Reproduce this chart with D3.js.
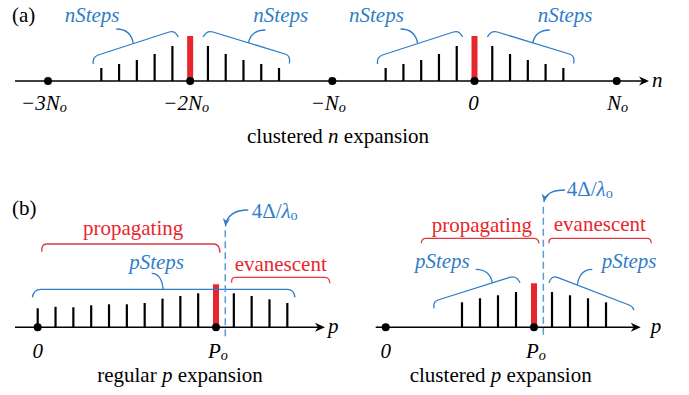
<!DOCTYPE html>
<html>
<head>
<meta charset="utf-8">
<script src="https://cdn.jsdelivr.net/npm/d3@7"></script>
<style>
  body { margin: 0; background: #fff; }
  svg { display: block; }
</style>
</head>
<body>
<svg id="chart" width="689" height="395"></svg>
<script>
// ---------------- data ----------------
// (a) clustered n expansion — positions in units of N0
const nTickValues = [-3, -2, -1, 0, 1];
const nTickLabels = ["−3N", "−2N", "−N", "0", "N"];
const nTickSubs   = ["o", "o", "o", "", "o"];
const nClusterCenters = [-2, 0];
const nStepOffsets = [0.125, 0.25, 0.375, 0.5, 0.625];   // distance from centre, inner → outer
const nStepAmps    = [35, 27, 21, 17, 13];                // stick heights, inner → outer
const nCenterAmp   = 45;

// (b) regular p expansion — integer p index, P0 at index 10
const pRegularIndex  = [0, 1, 2, 3, 4, 5, 6, 7, 8, 9, 10, 11, 12, 13, 14];
const pRegularAmps   = [19, 20.5, 20, 22, 23, 23, 24.3, 28.7, 31.3, 34, 43, 34, 31.3, 28, 24.3];
const pRegularCenter = 10;

// (b) clustered p expansion — positions as fraction of P0
const pClusterOffsets   = [0.1214, 0.2428, 0.3642, 0.4856]; // inner → outer
const pClusterAmps      = [35.3, 32, 29, 25];               // inner → outer
const pClusterCenterAmp = 44;

// ---------------- setup ----------------
const FONT = "'Liberation Serif','Times New Roman',Times,serif";
const BLUE = "#2f7cc7";
const RED = "#e8262d";
const BRACE_RED = "#dc3a40";
const DASH_BLUE = "#5b9bd5";
const FS = 21;

const svg = d3.select("#chart");

const xA = d3.scaleLinear().domain([-3, 0]).range([48, 474.5]);
const yA = d3.scaleLinear().domain([0, 100]).range([81, -19]);
const xB = d3.scaleLinear().domain([0, 10]).range([37.7, 216]);
const xC = d3.scaleLinear().domain([0, 1]).range([385.7, 534]);
const yB = d3.scaleLinear().domain([0, 100]).range([327.3, 227.3]);

// ---------------- helpers ----------------
function text(g, x, y, parts, opts = {}) {
  const t = g.append("text")
    .attr("x", x).attr("y", y)
    .attr("font-family", FONT)
    .attr("font-size", opts.size || FS)
    .attr("fill", opts.color || "#000")
    .attr("text-anchor", opts.anchor || "start");
  parts.forEach(p => {
    const [str, style] = Array.isArray(p) ? p : [p, ""];
    const ts = t.append("tspan").text(str);
    if (style.includes("i")) ts.attr("font-style", "italic");
    if (style.includes("s")) ts.attr("font-size", (opts.size || FS) * 0.68).attr("dy", 1.5);
  });
  return t;
}

function arrowHead(g, x, y, angDeg, size, color) {
  g.append("path")
    .attr("d", `M0,0 L${-size},${-size * 0.45} L${-size * 0.7},0 L${-size},${size * 0.45} Z`)
    .attr("transform", `translate(${x},${y}) rotate(${angDeg})`)
    .attr("fill", color);
}

// slanted/flat bracket: hook end h1 → p1, straight p1 → p2, hook p2 → h2
function bracket(g, pts, color) {
  const [h1, p1, p2, h2] = pts;
  const dx = p2[0] - p1[0], dy = p2[1] - p1[1];
  const L = Math.hypot(dx, dy), ux = dx / L, uy = dy / L;
  const k1 = Math.hypot(h1[0] - p1[0], h1[1] - p1[1]) * 0.6;
  const k2 = Math.hypot(h2[0] - p2[0], h2[1] - p2[1]) * 0.6;
  const p = d3.path();
  p.moveTo(h1[0], h1[1]);
  p.quadraticCurveTo(p1[0] - ux * k1, p1[1] - uy * k1, p1[0], p1[1]);
  p.lineTo(p2[0], p2[1]);
  p.quadraticCurveTo(p2[0] + ux * k2, p2[1] + uy * k2, h2[0], h2[1]);
  g.append("path").attr("d", p.toString())
    .attr("fill", "none").attr("stroke", color).attr("stroke-width", 1.3);
}

function callout(g, from, to, color) {
  const p = d3.path();
  p.moveTo(from[0], from[1]);
  p.quadraticCurveTo(from[0] + (to[0] - from[0]) * 0.15, to[1], to[0], to[1]);
  g.append("path").attr("d", p.toString())
    .attr("fill", "none").attr("stroke", color).attr("stroke-width", 1.3);
}

function pt(xs, ys, v, a) { return [xs(v), ys(a)]; }

function sticks(g, xs, ys, pos, amps) {
  g.selectAll(null).data(d3.zip(pos, amps)).join("line")
    .attr("x1", d => xs(d[0])).attr("x2", d => xs(d[0]))
    .attr("y1", ys(0)).attr("y2", d => ys(d[1]))
    .attr("stroke", "#000").attr("stroke-width", 2.2);
}

function redBar(g, xs, ys, v, a) {
  g.append("rect")
    .attr("x", xs(v) - 3).attr("width", 6)
    .attr("y", ys(a)).attr("height", ys(0) - ys(a))
    .attr("fill", RED);
}

function axisLine(g, x0, x1, y) {
  g.append("line").attr("x1", x0).attr("x2", x1 - 5).attr("y1", y).attr("y2", y)
    .attr("stroke", "#000").attr("stroke-width", 1.4);
  arrowHead(g, x1, y, 0, 10, "#000");
}

function dots(g, xs, ys, vals) {
  g.selectAll(null).data(vals).join("circle")
    .attr("cx", d => xs(d)).attr("cy", ys(0)).attr("r", 4).attr("fill", "#000");
}

function deltaArrow(g, from, to) {
  const cx = to[0] + 2, cy = from[1];
  const p = d3.path();
  p.moveTo(from[0], from[1]);
  p.quadraticCurveTo(cx, cy, to[0], to[1]);
  g.append("path").attr("d", p.toString())
    .attr("fill", "none").attr("stroke", BLUE).attr("stroke-width", 1.3);
  const ang = Math.atan2(to[1] - cy, to[0] - cx) * 180 / Math.PI;
  arrowHead(g, to[0], to[1], ang, 8, BLUE);
}

function dashed(g, x, yTop, yBot) {
  g.append("line").attr("x1", x).attr("x2", x).attr("y1", yTop).attr("y2", yBot)
    .attr("stroke", DASH_BLUE).attr("stroke-width", 1.5).attr("stroke-dasharray", "7,4");
}

// ---------------- panel (a) ----------------
const ga = svg.append("g");
text(ga, 12, 22, ["(a)"]);

nClusterCenters.forEach(c => {
  const pos = [...nStepOffsets.map(o => c - o), ...nStepOffsets.map(o => c + o)];
  const amps = [...nStepAmps, ...nStepAmps];
  sticks(ga, xA, yA, pos, amps);
  redBar(ga, xA, yA, c, nCenterAmp);

  // left bracket + label
  bracket(ga, [pt(xA, yA, c - 0.682, 17), pt(xA, yA, c - 0.647, 26),
               pt(xA, yA, c - 0.148, 49), pt(xA, yA, c - 0.084, 44)], BLUE);
  callout(ga, pt(xA, yA, c - 0.40, 37.5), pt(xA, yA, c - 0.52, 52), BLUE);
  text(ga, xA(c - 0.69), yA(59), [["nSteps", "i"]], { color: BLUE, anchor: "middle" });

  // right bracket + label
  bracket(ga, [pt(xA, yA, c + 0.697, 17.5), pt(xA, yA, c + 0.667, 27),
               pt(xA, yA, c + 0.16, 49), pt(xA, yA, c + 0.091, 44)], BLUE);
  callout(ga, pt(xA, yA, c + 0.41, 38), pt(xA, yA, c + 0.53, 51), BLUE);
  text(ga, xA(c + 0.637), yA(59), [["nSteps", "i"]], { color: BLUE, anchor: "middle" });
});

axisLine(ga, 15, 649, yA(0));
dots(ga, xA, yA, nTickValues);
text(ga, 652, 87, [["n", "i"]]);

nTickValues.forEach((v, i) => {
  const parts = [[nTickLabels[i], "i"]];
  if (nTickSubs[i]) parts.push([nTickSubs[i], "is"]);
  const shift = nTickLabels[i].startsWith("−") ? -4 : (v === 0 ? -1 : 1);
  text(ga, xA(v) + shift, 110, parts, { anchor: "middle" });
});
text(ga, 338, 143, ["clustered ", ["n", "i"], " expansion"], { anchor: "middle" });

// ---------------- panel (b) left: regular p expansion ----------------
const gb = svg.append("g");
text(gb, 12, 215, ["(b)"]);

sticks(gb, xB, yB,
  pRegularIndex.filter(i => i !== pRegularCenter),
  pRegularAmps.filter((a, i) => pRegularIndex[i] !== pRegularCenter));
redBar(gb, xB, yB, pRegularCenter, pRegularAmps[pRegularIndex.indexOf(pRegularCenter)]);

bracket(gb, [pt(xB, yB, 0.224, 75.6), pt(xB, yB, 0.505, 83.3),
             pt(xB, yB, 9.85, 83.3), pt(xB, yB, 10.22, 74.6)], BRACE_RED);
text(gb, xB(5.35), yB(92.3), ["propagating"], { color: RED, anchor: "middle" });

bracket(gb, [pt(xB, yB, 10.88, 44.6), pt(xB, yB, 11.07, 50),
             pt(xB, yB, 16.11, 50), pt(xB, yB, 16.39, 44)], BRACE_RED);
text(gb, xB(13.63), yB(56.3), ["evanescent"], { color: RED, anchor: "middle" });

bracket(gb, [pt(xB, yB, -0.30, 30), pt(xB, yB, 0.17, 38),
             pt(xB, yB, 14.0, 38), pt(xB, yB, 14.43, 30)], BLUE);
callout(gb, pt(xB, yB, 7.04, 38), pt(xB, yB, 6.39, 54), BLUE);
text(gb, xB(6.67), yB(58.3), [["pSteps", "i"]], { color: BLUE, anchor: "middle" });

dashed(gb, xB(10.52), yB(97), yB(-9.4));
deltaArrow(gb, pt(xB, yB, 11.81, 117.3), pt(xB, yB, 10.53, 101));
text(gb, xB(12.0), yB(109.3), ["4Δ/", ["λ", "i"], ["o", "s"]], { color: BLUE });

axisLine(gb, 15, 325, yB(0));
dots(gb, xB, yB, [0, pRegularCenter]);
text(gb, 328, 333, [["p", "i"]]);
text(gb, xB(0), 358, [["0", "i"]], { anchor: "middle" });
text(gb, xB(pRegularCenter) + 2, 358, [["P", "i"], ["o", "is"]], { anchor: "middle" });
text(gb, 180, 382, ["regular ", ["p", "i"], " expansion"], { anchor: "middle" });

// ---------------- panel (b) right: clustered p expansion ----------------
const gc = svg.append("g");

sticks(gc, xC, yB,
  [...pClusterOffsets.map(o => 1 - o), ...pClusterOffsets.map(o => 1 + o)],
  [...pClusterAmps, ...pClusterAmps]);
redBar(gc, xC, yB, 1, pClusterCenterAmp);

bracket(gc, [pt(xC, yB, 0.24, 84), pt(xC, yB, 0.27, 89),
             pt(xC, yB, 1.0, 89), pt(xC, yB, 1.034, 84)], BRACE_RED);
text(gc, xC(0.648), yB(95.3), ["propagating"], { color: RED, anchor: "middle" });

bracket(gc, [pt(xC, yB, 1.101, 84), pt(xC, yB, 1.123, 89),
             pt(xC, yB, 1.764, 89), pt(xC, yB, 1.791, 84)], BRACE_RED);
text(gc, xC(1.444), yB(96.3), ["evanescent"], { color: RED, anchor: "middle" });

bracket(gc, [pt(xC, yB, 0.326, 19), pt(xC, yB, 0.353, 27.3),
             pt(xC, yB, 0.836, 50), pt(xC, yB, 0.906, 44.6)], BLUE);
callout(gc, pt(xC, yB, 0.719, 44.5), pt(xC, yB, 0.607, 58), BLUE);
text(gc, xC(0.382), yB(59.3), [["pSteps", "i"]], { color: BLUE, anchor: "middle" });

bracket(gc, [pt(xC, yB, 1.674, 17.3), pt(xC, yB, 1.641, 22.3),
             pt(xC, yB, 1.157, 50), pt(xC, yB, 1.101, 44.6)], BLUE);
callout(gc, pt(xC, yB, 1.292, 42.3), pt(xC, yB, 1.393, 58), BLUE);
text(gc, xC(1.641), yB(59.3), [["pSteps", "i"]], { color: BLUE, anchor: "middle" });

dashed(gc, xC(1.063), yB(120.6), yB(-9.4));
deltaArrow(gc, pt(xC, yB, 1.209, 137.3), pt(xC, yB, 1.067, 125.3));
text(gc, xC(1.221), yB(131.3), ["4Δ/", ["λ", "i"], ["o", "s"]], { color: BLUE });

axisLine(gc, 375.7, 640.7, yB(0));
dots(gc, xC, yB, [0, 1]);
text(gc, 650.7, 333, [["p", "i"]]);
text(gc, xC(0), 358, [["0", "i"]], { anchor: "middle" });
text(gc, xC(1) + 2, 358, [["P", "i"], ["o", "is"]], { anchor: "middle" });
text(gc, 500.7, 382, ["clustered ", ["p", "i"], " expansion"], { anchor: "middle" });
</script>
</body>
</html>
